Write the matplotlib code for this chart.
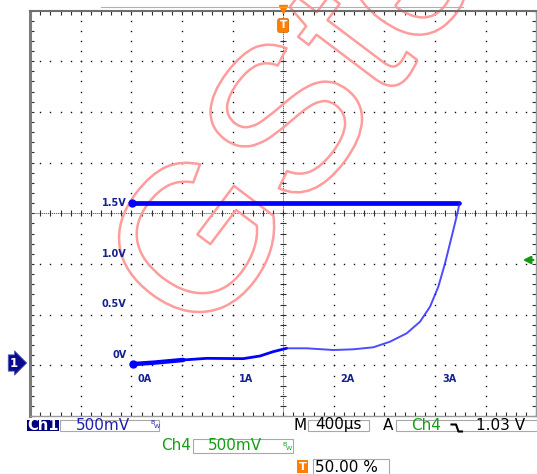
import matplotlib
matplotlib.use('Agg')
import matplotlib.pyplot as plt
import matplotlib.patheffects as pe
import matplotlib.transforms as mtransforms
from matplotlib.patches import Rectangle
from matplotlib.lines import Line2D
import numpy as np

W, H = 537, 474

# XY trace, x = current (A), y = voltage (V)
low_i = [-0.115, 0.082, 0.378, 0.608, 0.969, 1.134, 1.265, 1.397, 1.595, 1.857,
         2.054, 2.252, 2.416, 2.581, 2.712, 2.811, 2.893, 2.959, 3.008, 3.057,
         3.090, 3.100]
low_v = [-0.089, -0.076, -0.049, -0.033, -0.036, -0.010, 0.033, 0.066, 0.066, 0.049,
         0.056, 0.076, 0.131, 0.214, 0.328, 0.476, 0.674, 0.904, 1.101, 1.299,
         1.437, 1.496]
up_i = [-0.13, 1.40, 3.10]
up_v = [1.494, 1.494, 1.494]

volt_labels = ['1.5V', '1.0V', '0.5V', '0V']
volt_vals = [1.5, 1.0, 0.5, 0.0]
amp_labels = ['0A', '1A', '2A', '3A']
amp_vals = [0, 1, 2, 3]

ground_v = -0.079   # ch1 ground marker
trig_v = 0.937      # ch4 trigger level arrow

XLIM = (-1.132, 3.858)
YLIM = (-0.6026, 3.397)

fig = plt.figure(figsize=(W / 100, H / 100), dpi=100)
fig.patch.set_facecolor('white')
ax = fig.add_axes([30.2 / W, 1 - 416.1 / H, 506 / W, 405.6 / H])
ax.set_xlim(*XLIM)
ax.set_ylim(*YLIM)

x0, x1 = XLIM
y0, y1 = YLIM
dx = (x1 - x0) / 10
dy = (y1 - y0) / 8
xs_fine = np.linspace(x0, x1, 51)
ys_fine = np.linspace(y0, y1, 41)
xc = x0 + 5 * dx
yc = y0 + 4 * dy

# dotted graticule
gx, gy = [], []
for k in range(1, 10):
    if k == 5:
        continue
    gx += [x0 + k * dx] * len(ys_fine)
    gy += list(ys_fine)
for j in range(1, 8):
    if j == 4:
        continue
    gx += list(xs_fine)
    gy += [y0 + j * dy] * len(xs_fine)
ax.plot(gx, gy, ls='none', marker='s', ms=1.0, mew=0, color='#111111', zorder=1)

# centre cross with ticks
ax.axhline(yc, color='#606060', lw=0.7, ls=(0, (1.2, 0.8)), zorder=1)
ax.axvline(xc, color='#606060', lw=0.7, ls=(0, (1.2, 0.8)), zorder=1)
ax.plot(xs_fine, np.full(len(xs_fine), yc), ls='none', marker='|', ms=4.5, mew=0.8,
        color='#303030', zorder=1)
ax.plot(np.full(len(ys_fine), xc), ys_fine, ls='none', marker='_', ms=4.5, mew=0.8,
        color='#303030', zorder=1)

# border ticks
ax.set_xticks(xs_fine)
ax.set_yticks(ys_fine)
ax.tick_params(direction='in', length=3, width=0.8, color='#303030', top=True, right=True,
               labelbottom=False, labelleft=False)
ax.set_xlim(*XLIM)
ax.set_ylim(*YLIM)
ax.spines['left'].set_color('#7a7a7a')
ax.spines['left'].set_linewidth(2.2)
ax.spines['top'].set_color('#6e6e6e')
ax.spines['top'].set_linewidth(1.5)
ax.spines['bottom'].set_color('#9a9a9a')
ax.spines['bottom'].set_linewidth(1.0)
ax.spines['right'].set_color('#9a9a9a')
ax.spines['right'].set_linewidth(1.0)

# watermark
ax.text(203 / W, 1 - 346 / H, 'GSte', transform=fig.transFigure, rotation=53,
        rotation_mode='anchor', ha='left', va='baseline', fontsize=150,
        family='Liberation Sans', color='none', clip_on=False, zorder=2,
        path_effects=[pe.Stroke(linewidth=1.8, foreground='#ff9c9c')])

# trace
ax.plot(up_i, up_v, color='#0000ff', lw=3.4, solid_capstyle='round', zorder=4)
ax.plot(low_i[:3], low_v[:3], color='#0000ff', lw=3.2, solid_capstyle='round', zorder=4)
ax.plot(low_i[2:8], low_v[2:8], color='#0000ff', lw=2.0, solid_capstyle='round', zorder=4)
ax.plot(low_i[7:], low_v[7:], color='#1e1eff', lw=1.4, alpha=0.8, zorder=4)
ax.plot([low_i[0], up_i[0]], [low_v[0], up_v[0]], ls='none', marker='o', ms=5,
        color='#0000ff', zorder=4)

# hand-written scale labels
for s, v in zip(volt_labels, volt_vals):
    ax.text(-0.182, v, s, ha='right', va='center', fontsize=7, fontweight='bold',
            color='#14218f', zorder=5)
for s, a in zip(amp_labels, amp_vals):
    ax.text(a, -0.237, s, ha='center', va='center', fontsize=7, fontweight='bold',
            color='#14218f', zorder=5)

# ground marker, trigger markers
tr_gy = mtransforms.blended_transform_factory(fig.transFigure, ax.transData)
ax.text(14 / W, ground_v, '1', transform=tr_gy, ha='center', va='center', color='white',
        fontsize=8.5, fontweight='bold', clip_on=False, zorder=6,
        bbox=dict(boxstyle='rarrow,pad=0.14', fc='#0a0a8a', ec='#5060c0', lw=0.6))

tr_xf = mtransforms.blended_transform_factory(ax.transData, fig.transFigure)
ax.plot([xc], [1 - 9 / H], marker='v', ms=5.5, color='#ff7f00', transform=tr_xf,
        clip_on=False, zorder=6)
ax.text(xc, 1 - 25.5 / H, 'T', transform=tr_xf, ha='center', va='center', color='white',
        fontsize=7.5, fontweight='bold', clip_on=False, zorder=6,
        bbox=dict(boxstyle='round,pad=0.18', fc='#ff7f00', ec='#d06000', lw=0.5))

tr_ay = mtransforms.blended_transform_factory(ax.transAxes, ax.transData)
ax.annotate('', xy=(0.968, trig_v), xytext=(1.0, trig_v), xycoords=tr_ay, textcoords=tr_ay,
            arrowprops=dict(arrowstyle='-|>', color='#109a10', lw=1.6, mutation_scale=11),
            annotation_clip=False, zorder=6)

# record bar above graticule
fig.add_artist(Line2D([101 / W, 463 / W], [1 - 6.5 / H] * 2, transform=fig.transFigure,
                      color='#b0b0b0', lw=0.8))


# status bar
def box(xa, ya, xb, yb, **kw):
    fig.add_artist(Rectangle((xa / W, 1 - yb / H), (xb - xa) / W, (yb - ya) / H,
                             transform=fig.transFigure, **kw))


def label(x, y, s, **kw):
    fig.text(x / W, 1 - y / H, s, va='center', **kw)


blue = '#1e1eb4'
green = '#14a014'
ec = '#a8a8a8'

box(27, 419.5, 59, 430.5, fc='#000080', ec='none')
label(43, 425, 'Ch1', ha='center', color='white', fontsize=10.5, fontweight='bold')
box(60, 419.5, 159, 431, fc='white', ec=ec, lw=0.8)
label(76, 425, '500mV', ha='left', color=blue, fontsize=11)
label(150.5, 423, 'B', ha='left', color=blue, fontsize=4.5)
label(154, 427, 'W', ha='left', color=blue, fontsize=4.5)

label(300, 425, 'M', ha='center', color='black', fontsize=11)
box(308, 419.5, 369, 431, fc='white', ec=ec, lw=0.8)
label(315, 425, '400\u00b5s', ha='left', color='black', fontsize=11)

label(388, 425, 'A', ha='center', color='black', fontsize=11)
box(396, 419.5, 545, 431, fc='white', ec=ec, lw=0.8)
label(411, 425, 'Ch4', ha='left', color=green, fontsize=11)
fig.add_artist(Line2D(np.array([451.5, 456, 458.5, 462]) / W,
                      1 - np.array([424.5, 424.5, 431.5, 431.5]) / H,
                      transform=fig.transFigure, color='black', lw=1.5))
label(476, 425, '1.03 V', ha='left', color='black', fontsize=11)

label(161, 446, 'Ch4', ha='left', color=green, fontsize=11)
box(193, 439, 293, 453, fc='white', ec=ec, lw=0.8)
label(208, 446, '500mV', ha='left', color=green, fontsize=11)
label(282.5, 444, 'B', ha='left', color=green, fontsize=4.5)
label(286, 448, 'W', ha='left', color=green, fontsize=4.5)

box(297, 460, 308, 473, fc='#ff7f00', ec='none')
label(302.5, 466.5, 'T', ha='center', color='white', fontsize=8, fontweight='bold')
box(313, 459, 389, 478, fc='white', ec=ec, lw=0.8)
label(315, 467, '50.00 %', ha='left', color='black', fontsize=11)

fig.savefig('out.png', dpi=100)
